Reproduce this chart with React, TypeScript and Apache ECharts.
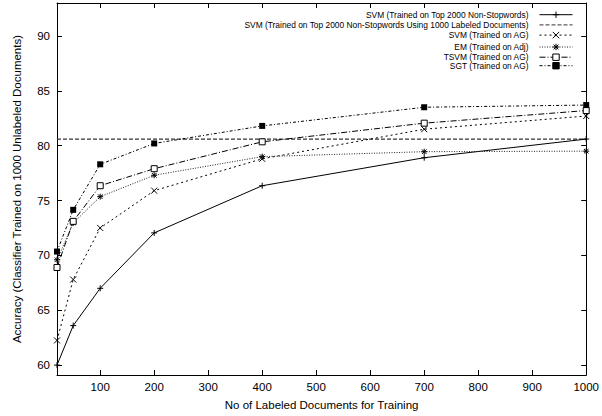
import React, { useEffect, useRef } from "react";
import * as echarts from "echarts";

const xValues = [20, 50, 100, 200, 400, 700, 1000];
const svmTop2000 = [60.0, 63.6, 67.0, 72.05, 76.35, 78.9, 80.6];
const svmReferenceLevel = 80.6;
const svmAG = [62.25, 67.8, 72.5, 75.9, 78.8, 81.5, 82.7];
const emAdj = [69.6, 72.95, 75.35, 77.3, 79.0, 79.45, 79.5];
const tsvmAG = [68.9, 73.1, 76.35, 77.9, 80.35, 82.05, 83.2];
const sgtAG = [70.35, 74.15, 78.3, 80.2, 81.8, 83.5, 83.7];

const xTickValues = [100, 200, 300, 400, 500, 600, 700, 800, 900, 1000];
const yTickValues = [60, 65, 70, 75, 80, 85, 90];

const seriesNames = [
  "SVM (Trained on Top 2000 Non-Stopwords)",
  "SVM (Trained on Top 2000 Non-Stopwords Using 1000 Labeled Documents)",
  "SVM (Trained on AG)",
  "EM (Trained on Adj)",
  "TSVM (Trained on AG)",
  "SGT (Trained on AG)",
];

const X_MIN = 20;
const X_MAX = 1000;
const Y_MIN = 59.1;
const Y_MAX = 93;

const FONT = "'Liberation Sans', Arial, Helvetica, sans-serif";
const LEGEND_FONT = "'Liberation Sans', Arial, Helvetica, sans-serif";

const PLUS = "path://M5,0L5,10M0,5L10,5";
const CROSS = "path://M0,0L10,10M10,0L0,10";
const STAR = "path://M5,0L5,10M0,5L10,5M1.2,1.2L8.8,8.8M8.8,1.2L1.2,8.8";

function pairs(ys: number[]) {
  return xValues.map((x, i) => [x, ys[i]]);
}

const plainNumber = (v: number) => String(v);

export default function App() {
  const ref = useRef<HTMLDivElement>(null);

  useEffect(() => {
    const chart = echarts.init(ref.current!, null, { renderer: "svg" });

    const strokeItem = { color: "none", borderColor: "#000", borderWidth: 1 };

    const axisCommon = {
      type: "value" as const,
      splitLine: { show: false },
      axisLine: { show: true, onZero: false, lineStyle: { color: "#000", width: 1 } },
    };

    chart.setOption({
      animation: false,
      backgroundColor: "#fff",
      grid: { left: 57, right: 13, top: 3, bottom: 39, containLabel: false },
      legend: {
        orient: "vertical",
        align: "right",
        right: 29,
        top: 9,
        padding: 0,
        itemGap: 0.5,
        itemWidth: 33,
        itemHeight: 8,
        selectedMode: false,
        lineStyle: { width: 1 },
        itemStyle: { borderWidth: 1 },
        data: seriesNames.map((name, i) =>
          i === 1 ? { name, itemStyle: { opacity: 0 } } : { name }
        ),
        formatter: "{a|{name}}",
        textStyle: {
          color: "#000",
          fontFamily: LEGEND_FONT,
          fontSize: 8.4,
          rich: {
            a: {
              color: "#000",
              fontFamily: LEGEND_FONT,
              fontSize: 8.4,
              lineHeight: 10,
              padding: [0, 6, 0, 0],
            },
          },
        },
      },
      xAxis: [
        {
          ...axisCommon,
          min: X_MIN,
          max: X_MAX,
          position: "bottom",
          name: "No of Labeled Documents for Training",
          nameLocation: "middle",
          nameGap: 24,
          nameTextStyle: { color: "#000", fontFamily: FONT, fontSize: 11.5 },
          axisTick: { inside: true, length: 5, customValues: xTickValues, lineStyle: { color: "#000" } },
          axisLabel: {
            customValues: xTickValues,
            formatter: plainNumber,
            margin: 6,
            color: "#000",
            fontFamily: FONT,
            fontSize: 11.5,
          },
        },
        {
          ...axisCommon,
          min: X_MIN,
          max: X_MAX,
          position: "top",
          axisTick: { inside: true, length: 5, customValues: xTickValues, lineStyle: { color: "#000" } },
          axisLabel: { show: false },
        },
      ],
      yAxis: [
        {
          ...axisCommon,
          min: Y_MIN,
          max: Y_MAX,
          position: "left",
          name: "Accuracy (Classifier Trained on 1000 Unlabeled Documents)",
          nameLocation: "middle",
          nameGap: 34,
          nameTextStyle: { color: "#000", fontFamily: FONT, fontSize: 11.5 },
          axisTick: { inside: true, length: 5, customValues: yTickValues, lineStyle: { color: "#000" } },
          axisLabel: {
            customValues: yTickValues,
            formatter: plainNumber,
            margin: 7,
            color: "#000",
            fontFamily: FONT,
            fontSize: 11.5,
          },
        },
        {
          ...axisCommon,
          min: Y_MIN,
          max: Y_MAX,
          position: "right",
          axisTick: { inside: true, length: 5, customValues: yTickValues, lineStyle: { color: "#000" } },
          axisLabel: { show: false },
        },
      ],
      series: [
        {
          name: seriesNames[0],
          type: "line",
          data: pairs(svmTop2000),
          symbol: PLUS,
          symbolSize: 6,
          showAllSymbol: true,
          clip: false,
          itemStyle: strokeItem,
          lineStyle: { color: "#000", width: 1, type: "solid" },
          emphasis: { disabled: true },
          z: 3,
        },
        {
          name: seriesNames[1],
          type: "line",
          data: [
            [X_MIN, svmReferenceLevel],
            [X_MAX, svmReferenceLevel],
          ],
          symbol: "none",
          clip: false,
          itemStyle: { color: "#000" },
          lineStyle: { color: "#333", width: 1.2, type: [4, 2] },
          emphasis: { disabled: true },
          z: 2,
        },
        {
          name: seriesNames[2],
          type: "line",
          data: pairs(svmAG),
          symbol: CROSS,
          symbolSize: 6,
          showAllSymbol: true,
          clip: false,
          itemStyle: strokeItem,
          lineStyle: { color: "#000", width: 1, type: [2, 3] },
          emphasis: { disabled: true },
          z: 3,
        },
        {
          name: seriesNames[3],
          type: "line",
          data: pairs(emAdj),
          symbol: STAR,
          symbolSize: 6,
          showAllSymbol: true,
          clip: false,
          itemStyle: strokeItem,
          lineStyle: { color: "#222", width: 1, type: [1, 1.5] },
          emphasis: { disabled: true },
          z: 3,
        },
        {
          name: seriesNames[4],
          type: "line",
          data: pairs(tsvmAG),
          symbol: "rect",
          symbolSize: 6,
          showAllSymbol: true,
          clip: false,
          itemStyle: { color: "#fff", borderColor: "#000", borderWidth: 1 },
          lineStyle: { color: "#000", width: 1, type: [6, 2, 1, 2] },
          emphasis: { disabled: true },
          z: 4,
        },
        {
          name: seriesNames[5],
          type: "line",
          data: pairs(sgtAG),
          symbol: "rect",
          symbolSize: 6,
          showAllSymbol: true,
          clip: false,
          itemStyle: { color: "#000", borderColor: "#000", borderWidth: 0 },
          lineStyle: { color: "#000", width: 1, type: [3, 2, 1, 2] },
          emphasis: { disabled: true },
          z: 4,
        },
      ],
    });

    return () => chart.dispose();
  }, []);

  return (
    <div
      ref={ref}
      style={{ position: "fixed", left: 0, top: 0, width: 602, height: 416 }}
    />
  );
}
